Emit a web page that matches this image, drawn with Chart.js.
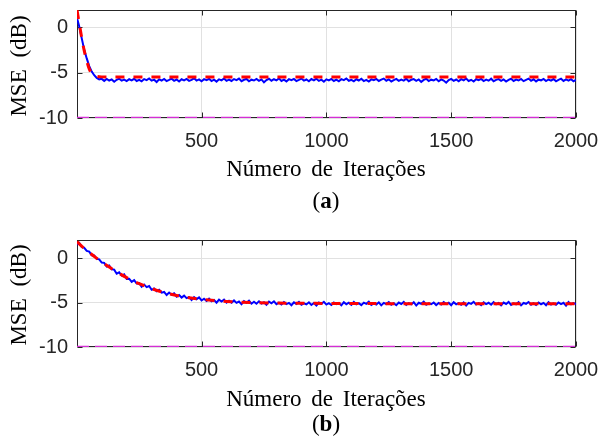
<!DOCTYPE html>
<html><head><meta charset="utf-8">
<script src="https://cdn.jsdelivr.net/npm/chart.js@4.4.0/dist/chart.umd.min.js"></script>
<style>
html,body{margin:0;padding:0;background:#fff;}
body{width:602px;height:445px;position:relative;overflow:hidden;}
canvas{position:absolute;left:0;}
.t{position:absolute;font-family:"Liberation Serif","Times New Roman",serif;font-size:23px;line-height:24px;color:#000;white-space:nowrap;text-align:center;word-spacing:4px;}
</style></head><body>
<canvas id="ca" width="602" height="160" style="top:0px;width:602px;height:160px"></canvas>
<canvas id="cb" width="602" height="160" style="top:230px;width:602px;height:160px"></canvas>
<div class="t" style="left:-51px;top:54px;width:140px;transform:rotate(-90deg);word-spacing:6px">MSE (dB)</div>
<div class="t" style="left:-51px;top:283px;width:140px;transform:rotate(-90deg);word-spacing:6px">MSE (dB)</div>
<div class="t" style="left:176px;top:157px;width:300px">Número de Iterações</div>
<div class="t" style="left:176px;top:387px;width:300px">Número de Iterações</div>
<div class="t" style="left:276px;top:189px;width:100px">(<b>a</b>)</div>
<div class="t" style="left:276px;top:412px;width:100px">(<b>b</b>)</div>
<script>
// ---- data ----
const iters = [1,10,20,30,40,50,60,70,80,90,100,
110,120,130,140,150,160,170,180,190,200,
210,220,230,240,250,260,270,280,290,300,
310,320,330,340,350,360,370,380,390,400,
410,420,430,440,450,460,470,480,490,500,
510,520,530,540,550,560,570,580,590,600,
610,620,630,640,650,660,670,680,690,700,
710,720,730,740,750,760,770,780,790,800,
810,820,830,840,850,860,870,880,890,900,
910,920,930,940,950,960,970,980,990,1000,
1010,1020,1030,1040,1050,1060,1070,1080,1090,1100,
1110,1120,1130,1140,1150,1160,1170,1180,1190,1200,
1210,1220,1230,1240,1250,1260,1270,1280,1290,1300,
1310,1320,1330,1340,1350,1360,1370,1380,1390,1400,
1410,1420,1430,1440,1450,1460,1470,1480,1490,1500,
1510,1520,1530,1540,1550,1560,1570,1580,1590,1600,
1610,1620,1630,1640,1650,1660,1670,1680,1690,1700,
1710,1720,1730,1740,1750,1760,1770,1780,1790,1800,
1810,1820,1830,1840,1850,1860,1870,1880,1890,1900,
1910,1920,1930,1940,1950,1960,1970,1980,1990,2000];

// (a) simulated MSE (dB)
const mseA = [1.00,0.05,-1.25,-2.50,-3.45,-4.30,-4.90,-5.30,-5.60,-5.75,-5.70,
-5.92,-5.70,-5.88,-5.76,-6.02,-5.80,-5.68,-5.90,-5.78,-5.95,
-5.74,-5.86,-5.69,-5.93,-5.80,-5.97,-5.72,-5.84,-5.66,-5.90,
-5.79,-6.05,-5.76,-5.88,-5.71,-5.94,-5.82,-5.68,-5.91,-5.77,
-5.99,-5.74,-5.87,-5.70,-5.92,-5.81,-5.64,-5.89,-5.76,-5.96,
-5.73,-5.85,-5.69,-5.94,-5.79,-6.00,-5.75,-5.86,-5.66,-5.91,
-5.78,-5.93,-5.72,-5.84,-5.67,-5.95,-5.80,-5.71,-5.97,-5.79,
-5.88,-5.70,-5.92,-5.76,-6.08,-5.83,-5.69,-5.90,-5.74,-5.87,
-5.65,-5.93,-5.78,-5.98,-5.73,-5.85,-5.70,-5.94,-5.81,-5.67,
-5.90,-5.77,-5.96,-5.72,-5.86,-5.68,-5.92,-5.79,-6.01,-5.75,
-5.87,-5.70,-5.93,-5.78,-5.96,-5.73,-5.84,-5.66,-5.91,-5.80,
-5.97,-5.74,-5.88,-5.69,-5.94,-5.81,-5.99,-5.76,-5.85,-5.71,
-5.93,-5.78,-5.67,-5.90,-5.75,-5.98,-5.83,-5.70,-5.92,-5.77,
-5.89,-5.68,-5.95,-5.80,-5.72,-5.91,-5.76,-6.03,-5.82,-5.69,
-5.94,-5.79,-5.87,-5.71,-5.96,-5.75,-5.88,-6.12,-5.84,-5.70,
-5.92,-5.77,-5.97,-5.73,-5.86,-5.66,-5.93,-5.80,-5.99,-5.74,
-5.85,-5.70,-5.94,-5.78,-5.90,-5.68,-5.96,-5.81,-5.73,-5.92,
-5.76,-6.00,-5.82,-5.69,-5.93,-5.78,-5.88,-5.71,-5.95,-5.80,
-5.67,-5.91,-5.75,-5.98,-5.79,-5.86,-5.70,-5.94,-5.77,-5.89,
-5.72,-5.97,-5.81,-5.68,-5.93,-5.76,-5.90,-5.73,-5.96,-5.82];

// (a) theoretical MSE (dB)
const theoXA = [1,10,20,30,40,50,60,70,80,100,150,2000];
const theoA  = [1.87,0.40,-1.20,-2.60,-3.70,-4.60,-5.10,-5.32,-5.42,-5.48,-5.50,-5.50];

// (b) simulated MSE (dB)
const mseB = [1.50,1.70,1.25,1.15,0.80,0.72,0.30,0.28,-0.10,-0.15,-0.50,
-0.54,-0.95,-0.84,-1.26,-1.30,-1.76,-1.61,-1.97,-1.83,-2.35,
-2.32,-2.67,-2.48,-2.86,-2.82,-3.22,-2.98,-3.27,-3.14,-3.57,
-3.43,-3.74,-3.56,-3.89,-3.81,-4.16,-3.88,-4.12,-3.96,-4.34,
-4.16,-4.44,-4.22,-4.51,-4.40,-4.72,-4.40,-4.62,-4.42,-4.77,
-4.57,-4.82,-4.57,-4.85,-4.72,-5.02,-4.68,-4.88,-4.67,-5.01,
-4.80,-5.03,-4.77,-5.04,-4.89,-5.18,-4.83,-5.02,-4.80,-5.13,
-4.91,-5.13,-4.87,-5.12,-4.97,-5.26,-4.90,-5.09,-4.86,-5.19,
-5.02,-5.22,-4.95,-5.18,-5.04,-5.30,-4.98,-5.16,-4.93,-5.24,
-5.09,-5.21,-4.97,-5.27,-5.06,-5.33,-5.00,-5.14,-4.92,-5.23,
-5.08,-5.28,-4.99,-5.17,-5.05,-5.31,-4.96,-5.19,-5.02,-5.25,
-4.94,-5.20,-5.07,-5.29,-5.01,-5.15,-4.90,-5.26,-5.10,-5.22,
-4.98,-5.32,-5.04,-5.18,-4.95,-5.24,-5.08,-5.30,-5.00,-5.16,
-4.93,-5.27,-5.06,-5.21,-4.97,-5.34,-5.03,-5.14,-4.91,-5.25,
-5.09,-5.19,-4.99,-5.28,-5.05,-5.22,-4.94,-5.17,-5.02,-5.30,
-4.96,-5.20,-5.07,-5.26,-5.00,-5.33,-5.04,-5.15,-4.92,-5.23,
-5.08,-5.29,-4.98,-5.18,-5.03,-5.25,-4.95,-5.21,-5.06,-5.31,
-5.01,-5.16,-4.93,-5.27,-5.09,-5.20,-4.97,-5.32,-5.05,-5.14,
-4.94,-5.24,-5.07,-5.28,-5.00,-5.19,-5.04,-5.30,-4.96,-5.22,
-5.09,-5.26,-4.99,-5.17,-5.03,-5.34,-4.95,-5.21,-5.06,-5.18];

// (b) theoretical MSE (dB)
const theoXB = [1,25,50,75,100,125,150,175,200,250,300,350,400,450,500,600,700,800,1000,1300,2000];
const theoB  = [1.84,1.20,0.63,0.08,-0.44,-0.93,-1.38,-1.81,-2.20,-2.88,-3.43,-3.87,-4.21,-4.46,-4.64,-4.88,-5.00,-5.06,-5.10,-5.13,-5.15];

// noise floor line
const floorX = [1,2000];
const floorY = [-10,-10];

const xTicks = [500,1000,1500,2000];
const yTicks = [-10,-5,0];
const yMaxA = 1.87, yMaxB = 2.03;

// ---- drawing ----
const pts = (xs, ys) => xs.map((v,i)=>({x:v, y:ys[i]}));
const AXC = '#262626';

const boxPlugin = {
  id:'matlabBox',
  beforeDatasetsDraw(chart){
    const {ctx, chartArea:a, scales} = chart;
    const L = Math.round(a.left)+0.5, R = Math.round(a.right)-0.5;
    const T = Math.round(a.top)+0.5, B = Math.round(a.bottom)-0.5;
    ctx.save();
    ctx.strokeStyle = AXC; ctx.lineWidth = 1;
    ctx.strokeRect(L, T, R-L, B-T);
    ctx.beginPath();
    xTicks.forEach(v=>{
      const px = Math.round(scales.x.getPixelForValue(v))+0.5;
      ctx.moveTo(px,B); ctx.lineTo(px,B-5);
      ctx.moveTo(px,T); ctx.lineTo(px,T+5);
    });
    yTicks.forEach(v=>{
      const py = Math.round(scales.y.getPixelForValue(v))+0.5;
      ctx.moveTo(L,py); ctx.lineTo(L+5,py);
      ctx.moveTo(R,py); ctx.lineTo(R-5,py);
    });
    ctx.stroke();
    ctx.restore();
  }
};

function makeChart(id, mse, tx, ty, yMax, xAxisH){
  new Chart(document.getElementById(id), {
    type:'line',
    data:{datasets:[
      {data:pts(tx,ty), borderColor:'#ff0000', borderWidth:3, borderDash:[9,9], pointRadius:0, order:0, cubicInterpolationMode:'monotone'},
      {data:pts(floorX,floorY), borderColor:'#d42fd4', borderWidth:2.4, borderDash:[12,6], pointRadius:0, order:1},
      {data:pts(iters,mse), borderColor:'#0000ff', borderWidth:2, pointRadius:0, order:2}
    ]},
    options:{
      responsive:false, animation:false, events:[],
      layout:{padding:{top:10,right:26,left:0,bottom:0}},
      plugins:{legend:{display:false}, tooltip:{enabled:false}, title:{display:false}},
      scales:{
        x:{type:'linear', min:1, max:2000,
          afterBuildTicks:s=>{s.ticks = xTicks.map(v=>({value:v}));},
          afterFit:s=>{s.height = xAxisH; s.paddingLeft = 0; s.paddingRight = 0;},
          grid:{color:'#e1e1e1', lineWidth:1, drawTicks:false},
          border:{display:false},
          ticks:{autoSkip:false, maxRotation:0, padding:11, color:AXC,
            font:{family:'"Liberation Sans", Arial, sans-serif', size:20},
            callback:v=>String(v)}
        },
        y:{type:'linear', min:-10, max:yMax,
          afterBuildTicks:s=>{s.ticks = yTicks.map(v=>({value:v}));},
          afterFit:s=>{s.width = 77; s.paddingTop = 0; s.paddingBottom = 0;},
          grid:{color:'#e1e1e1', lineWidth:1, drawTicks:false},
          border:{display:false},
          ticks:{padding:9, color:AXC,
            font:{family:'"Liberation Sans", Arial, sans-serif', size:20},
            callback:v=>String(v)}
        }
      }
    },
    plugins:[boxPlugin]
  });
}
makeChart('ca', mseA, theoXA, theoA, yMaxA, 42);
makeChart('cb', mseB, theoXB, theoB, yMaxB, 43);
</script>
</body></html>
